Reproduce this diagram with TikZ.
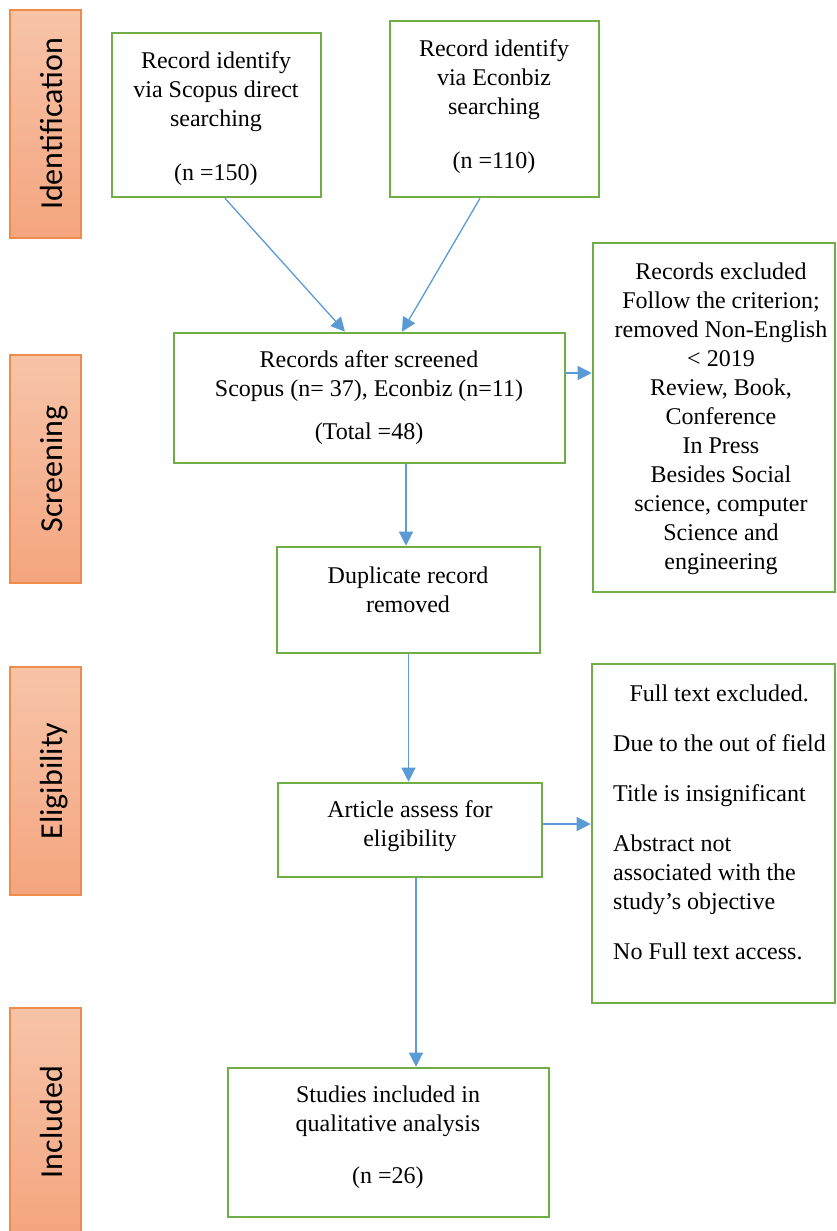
\documentclass[tikz,border=0pt]{standalone}
\usepackage{fontspec}
\setmainfont{Liberation Serif}
\newfontfamily\calibri{Carlito}
\usetikzlibrary{arrows.meta,calc}
\definecolor{boxgreen}{HTML}{70AD47}
\definecolor{arrblue}{HTML}{5B9BD5}
\definecolor{sidetop}{HTML}{F7C4A8}
\definecolor{sidebot}{HTML}{F4A57F}
\definecolor{sideedge}{HTML}{F08C4A}
\tikzset{
  gbox/.style={draw=boxgreen, line width=2.6pt, rectangle, inner sep=0pt},
  sidebox/.style={draw=sideedge, line width=1.3pt, rectangle, inner sep=0pt,
    top color=sidetop, bottom color=sidebot, minimum width=71pt, minimum height=228pt},
  sidetxt/.style={rotate=90, anchor=base, inner sep=0pt, font=\calibri\fontsize{32}{36}\selectfont},
  txt/.style={inner sep=0pt, align=center, font=\fontsize{24}{29}\selectfont},
  arr/.style={draw=arrblue, line width=1.3pt, -{Triangle[length=14pt,width=14pt]}}
}
\begin{document}
\begin{tikzpicture}[x=1pt,y=-1pt]
\useasboundingbox (0,0) rectangle (836,1231);
\clip (0,0) rectangle (836,1231);

% side stage boxes
\node[sidebox] (s1) at (45.5,124) {};
\node[sidebox] (s2) at (45.5,469) {};
\node[sidebox] (s3) at (45.5,781) {};
\node[sidebox] (s4) at (45.5,1122) {};
\node[sidetxt] (s1t) at (62,124) {Identification};
\node[sidetxt] (s2t) at (62,469) {Screening};
\node[sidetxt] (s3t) at (62,781) {Eligibility};
\node[sidetxt] (s4t) at (62,1122) {Included};

% boxes
\node[gbox, minimum width=209pt, minimum height=164pt] (b1) at (216.5,115) {};
\node[gbox, minimum width=209pt, minimum height=176pt] (b2) at (494.5,109) {};
\node[gbox, minimum width=391pt, minimum height=130pt] (b3) at (369.5,398) {};
\node[gbox, minimum width=242pt, minimum height=349pt] (b4) at (714,417.5) {};
\node[gbox, minimum width=263pt, minimum height=106pt] (b5) at (408.5,600) {};
\node[gbox, minimum width=264pt, minimum height=94pt] (b6) at (410,830) {};
\node[gbox, minimum width=243pt, minimum height=339pt] (b7) at (713.5,833.5) {};
\node[gbox, minimum width=321pt, minimum height=149pt] (b8) at (388.5,1142.5) {};

% texts
\node[txt] (b1t) at (216,119) {Record identify\\via Scopus direct\\searching\\[25pt](n =150)};
\node[txt] (b2t) at (494,107) {Record identify\\via Econbiz\\searching\\[25pt](n =110)};
\node[txt] (b3t) at (369,398) {Records after screened\\Scopus (n= 37), Econbiz (n=11)\\[14pt](Total =48)};
\node[txt] (b4t) at (721,419) {Records excluded\\Follow the criterion;\\removed Non-English\\< 2019\\Review, Book,\\Conference\\In Press\\Besides Social\\science, computer\\Science and\\engineering};
\node[txt] (b5t) at (408,590) {Duplicate record\\removed};
\node[txt] (b6t) at (410,826) {Article assess for\\eligibility};
\node[txt, align=left, anchor=west] (b7t) at (613,822) {\makebox[212pt]{Full text excluded.}\\[21pt]Due to the out of field\\[21pt]Title is insignificant\\[21pt]Abstract not\\associated with the\\study’s objective\\[21pt]No Full text access.};
\node[txt] (b8t) at (388,1137) {Studies included in\\qualitative analysis\\[23pt](n =26)};

% connectors
\draw[arr] ($(b1.south)+(8.5,0)$) -- ($(b3.north)+(-24.5,0)$);
\draw[arr] ($(b2.south)+(-14.5,0)$) -- ($(b3.north)+(32.5,0)$);
\draw[arr] ($(b3.east)+(0,-25)$) coordinate (p) -- (p -| b4.west);
\draw[arr] ($(b3.south)+(36.5,0)$) coordinate (q) -- (q |- b5.north);
\draw[arr] (b5.south) -- (b5.south |- b6.north);
\draw[arr] ($(b6.east)+(0,-6)$) coordinate (u) -- (u -| b7.west);
\draw[arr] ($(b6.south)+(6,0)$) coordinate (v) -- (v |- b8.north);
\end{tikzpicture}
\end{document}
